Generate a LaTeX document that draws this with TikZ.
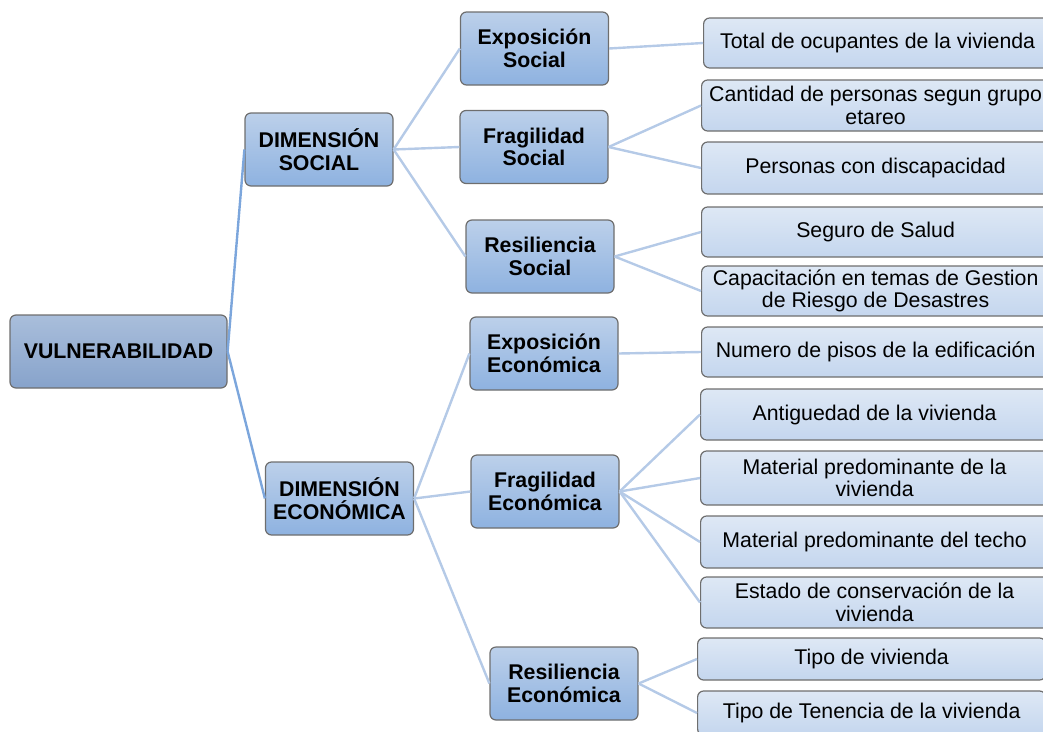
\documentclass[tikz,border=0pt]{standalone}
\usepackage{fontspec}
\setmainfont{Liberation Sans}
\definecolor{rootTop}{HTML}{A9BEDB}
\definecolor{rootBot}{HTML}{87A3CB}
\definecolor{midTop}{HTML}{BCD0EA}
\definecolor{midBot}{HTML}{8EB2E0}
\definecolor{leafTop}{HTML}{DEE8F5}
\definecolor{leafBot}{HTML}{C4D6EE}
\definecolor{boxLine}{HTML}{6E6E6E}
\definecolor{mainEdge}{HTML}{7CA6DC}
\definecolor{subEdge}{HTML}{B5CAE7}
\tikzset{
  basebox/.style={draw=boxLine, line width=1.2pt, rounded corners=6pt, inner sep=0pt, align=center,
    font=\fontsize{21.3}{22.5}\selectfont},
  rootbox/.style={basebox, top color=rootTop, bottom color=rootBot, font=\fontsize{21.3}{22.5}\selectfont\bfseries,
    minimum width=217pt, minimum height=73pt},
  midbox/.style={basebox, top color=midTop, bottom color=midBot, font=\fontsize{21.3}{22.5}\selectfont\bfseries,
    minimum width=148pt, minimum height=73pt},
  leafbox/.style={basebox, top color=leafTop, bottom color=leafBot, minimum width=348pt, anchor=west},
  mainline/.style={draw=mainEdge, line width=2.4pt},
  subline/.style={draw=subEdge, line width=2.4pt}
}
\begin{document}
\begin{tikzpicture}[x=1pt,y=-1pt]
\useasboundingbox (0,0) rectangle (1043,731);
\clip (0,0) rectangle (1043,731);
% root
\node[rootbox] (root) at (118.5,351.5) {VULNERABILIDAD};
% dimensions
\node[midbox] (ds) at (319,149.5) {DIMENSIÓN\\SOCIAL};
\node[midbox] (de) at (339.5,498.5) {DIMENSIÓN\\ECONÓMICA};
% level 3
\node[midbox] (es) at (534.5,48.5) {Exposición\\Social};
\node[midbox] (fs) at (534,147) {Fragilidad\\Social};
\node[midbox] (rs) at (540,256.5) {Resiliencia\\Social};
\node[midbox] (ee) at (544,353.5) {Exposición\\Económica};
\node[midbox] (fe) at (545,491.5) {Fragilidad\\Económica};
\node[midbox] (re) at (564,683.5) {Resiliencia\\Económica};
% leaves
\node[leafbox, minimum height=50pt] (l1) at (703,43) {Total de ocupantes de la vivienda};
\node[leafbox, minimum height=51pt] (l2) at (701,105.5) {Cantidad de personas segun grupo\\etareo};
\node[leafbox, minimum height=52pt] (l3) at (701,168) {Personas con discapacidad};
\node[leafbox, minimum height=50pt] (l4) at (701,232) {Seguro de Salud};
\node[leafbox, minimum height=50pt] (l5) at (701,291) {Capacitación en temas de Gestion\\de Riesgo de Desastres};
\node[leafbox, minimum height=50pt] (l6) at (701,352) {Numero de pisos de la edificación};
\node[leafbox, minimum height=51pt] (l7) at (700,414.5) {Antiguedad de la vivienda};
\node[leafbox, minimum height=54pt] (l8) at (700,478) {Material predominante de la\\vivienda};
\node[leafbox, minimum height=52pt] (l9) at (700,542) {Material predominante del techo};
\node[leafbox, minimum height=51pt] (l10) at (700,602.5) {Estado de conservación de la\\vivienda};
\node[leafbox, minimum height=42pt] (l11) at (697,659) {Tipo de vivienda};
\node[leafbox, minimum height=44pt] (l12) at (697,713) {Tipo de Tenencia de la vivienda};
% edges
\draw[mainline] (root.east) -- (ds.west);
\draw[mainline] (root.east) -- (de.west);
\draw[subline] (ds.east) -- (es.west);
\draw[subline] (ds.east) -- (fs.west);
\draw[subline] (ds.east) -- (rs.west);
\draw[subline] (de.east) -- (ee.west);
\draw[subline] (de.east) -- (fe.west);
\draw[subline] (de.east) -- (re.west);
\draw[subline] (es.east) -- (l1.west);
\draw[subline] (fs.east) -- (l2.west);
\draw[subline] (fs.east) -- (l3.west);
\draw[subline] (rs.east) -- (l4.west);
\draw[subline] (rs.east) -- (l5.west);
\draw[subline] (ee.east) -- (l6.west);
\draw[subline] (fe.east) -- (l7.west);
\draw[subline] (fe.east) -- (l8.west);
\draw[subline] (fe.east) -- (l9.west);
\draw[subline] (fe.east) -- (l10.west);
\draw[subline] (re.east) -- (l11.west);
\draw[subline] (re.east) -- (l12.west);
\end{tikzpicture}
\end{document}
